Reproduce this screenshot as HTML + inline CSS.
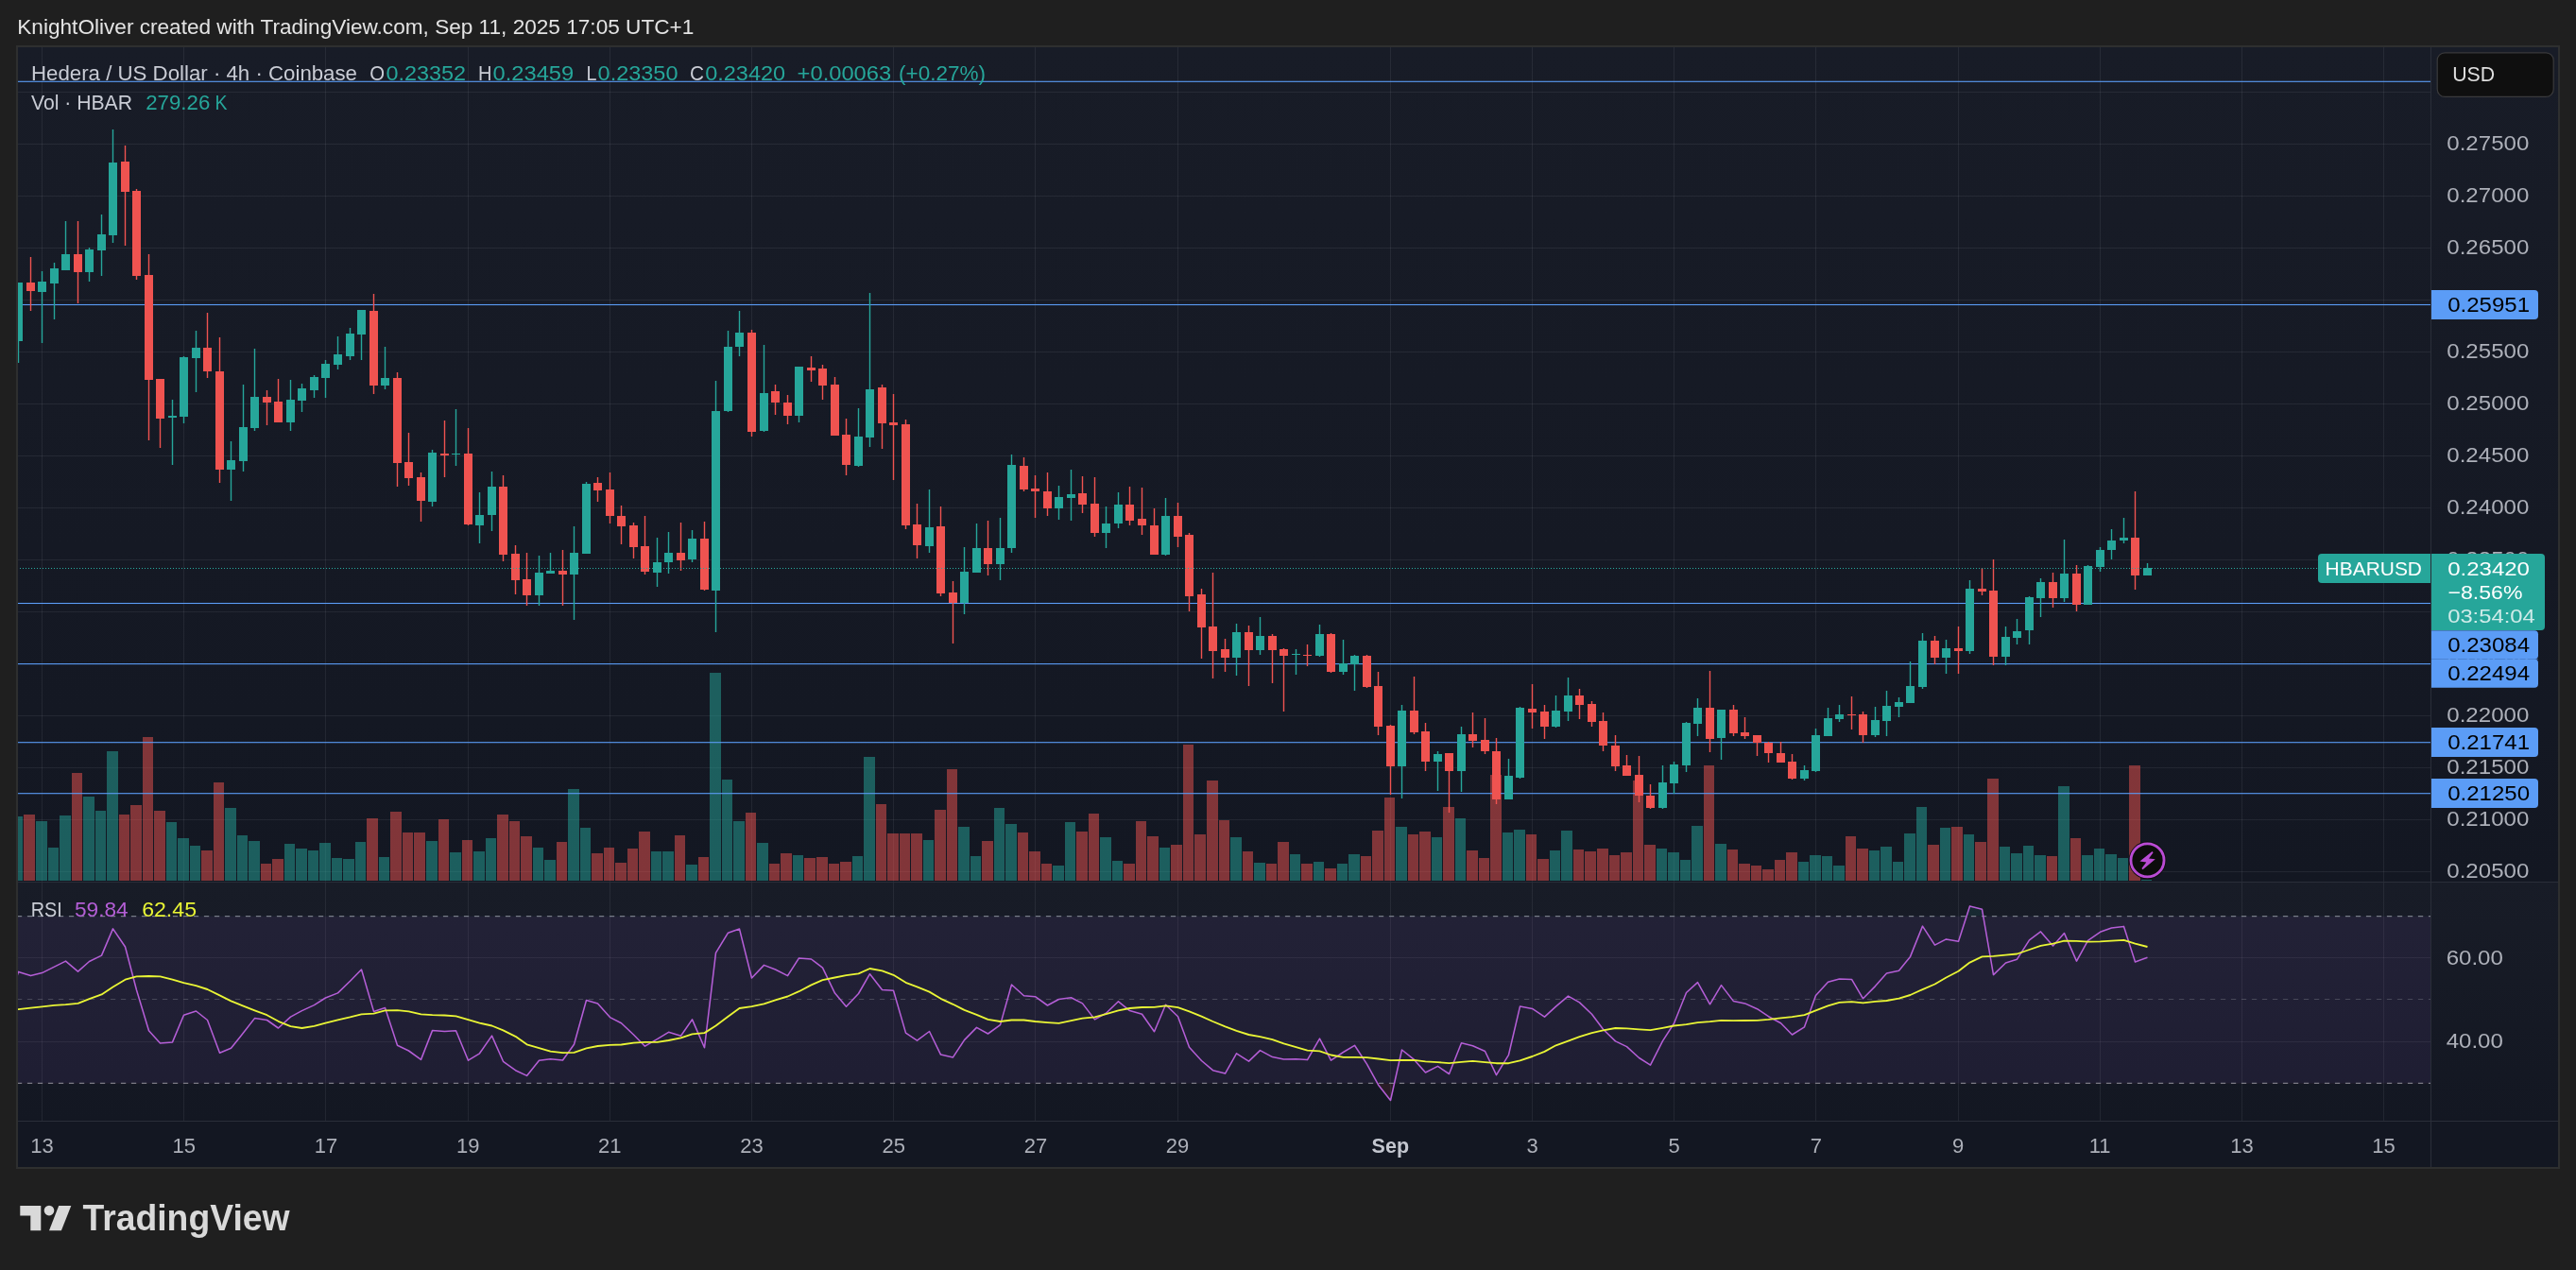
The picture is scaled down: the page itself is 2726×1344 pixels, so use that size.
<!DOCTYPE html>
<html lang="en"><head><meta charset="utf-8"><title>HBARUSD chart</title>
<style>html,body{margin:0;padding:0;background:#1f1f1f;}body{width:2726px;height:1344px;overflow:hidden;}svg{display:block;will-change:transform;}</style>
</head><body>
<svg width="2726" height="1344" viewBox="0 0 2726 1344" font-family='"Liberation Sans", Arial, sans-serif'>
<defs>
<linearGradient id="pg" x1="0" y1="0" x2="0" y2="1"><stop offset="0" stop-color="#181c27"/><stop offset="1" stop-color="#131722"/></linearGradient>
<clipPath id="cm"><rect x="19" y="50" width="2553" height="883"/></clipPath>
<clipPath id="cr"><rect x="19" y="934" width="2553" height="252"/></clipPath>
</defs>
<rect width="2726" height="1344" fill="#1f1f1f"/>
<text x="18.3" y="36.2" font-size="22.5" fill="#e4e4e4" textLength="716" lengthAdjust="spacingAndGlyphs">KnightOliver created with TradingView.com, Sep 11, 2025 17:05 UTC+1</text>
<rect x="17" y="48" width="2692" height="1189" fill="#2e2f2f"/>
<rect x="19" y="50" width="2688" height="883" fill="url(#pg)"/>
<rect x="19" y="933" width="2688" height="253" fill="url(#pg)"/>
<rect x="19" y="1186" width="2688" height="49" fill="#131722"/>
<g fill="#f0f3fa" fill-opacity="0.07">
<rect x="44" y="50" width="1" height="883"/>
<rect x="44" y="934" width="1" height="252"/>
<rect x="194" y="50" width="1" height="883"/>
<rect x="194" y="934" width="1" height="252"/>
<rect x="344" y="50" width="1" height="883"/>
<rect x="344" y="934" width="1" height="252"/>
<rect x="495" y="50" width="1" height="883"/>
<rect x="495" y="934" width="1" height="252"/>
<rect x="645" y="50" width="1" height="883"/>
<rect x="645" y="934" width="1" height="252"/>
<rect x="795" y="50" width="1" height="883"/>
<rect x="795" y="934" width="1" height="252"/>
<rect x="945" y="50" width="1" height="883"/>
<rect x="945" y="934" width="1" height="252"/>
<rect x="1095" y="50" width="1" height="883"/>
<rect x="1095" y="934" width="1" height="252"/>
<rect x="1246" y="50" width="1" height="883"/>
<rect x="1246" y="934" width="1" height="252"/>
<rect x="1471" y="50" width="1" height="883"/>
<rect x="1471" y="934" width="1" height="252"/>
<rect x="1621" y="50" width="1" height="883"/>
<rect x="1621" y="934" width="1" height="252"/>
<rect x="1771" y="50" width="1" height="883"/>
<rect x="1771" y="934" width="1" height="252"/>
<rect x="1921" y="50" width="1" height="883"/>
<rect x="1921" y="934" width="1" height="252"/>
<rect x="2072" y="50" width="1" height="883"/>
<rect x="2072" y="934" width="1" height="252"/>
<rect x="2222" y="50" width="1" height="883"/>
<rect x="2222" y="934" width="1" height="252"/>
<rect x="2372" y="50" width="1" height="883"/>
<rect x="2372" y="934" width="1" height="252"/>
<rect x="2522" y="50" width="1" height="883"/>
<rect x="2522" y="934" width="1" height="252"/>
<rect x="19" y="97" width="2553" height="1"/>
<rect x="19" y="152" width="2553" height="1"/>
<rect x="19" y="207" width="2553" height="1"/>
<rect x="19" y="262" width="2553" height="1"/>
<rect x="19" y="317" width="2553" height="1"/>
<rect x="19" y="372" width="2553" height="1"/>
<rect x="19" y="427" width="2553" height="1"/>
<rect x="19" y="482" width="2553" height="1"/>
<rect x="19" y="537" width="2553" height="1"/>
<rect x="19" y="592" width="2553" height="1"/>
<rect x="19" y="647" width="2553" height="1"/>
<rect x="19" y="702" width="2553" height="1"/>
<rect x="19" y="757" width="2553" height="1"/>
<rect x="19" y="812" width="2553" height="1"/>
<rect x="19" y="867" width="2553" height="1"/>
<rect x="19" y="922" width="2553" height="1"/>
<rect x="19" y="1013" width="2553" height="1"/>
<rect x="19" y="1102" width="2553" height="1"/>
</g>
<rect x="2572" y="50" width="1" height="1185" fill="#2a2e39"/>
<rect x="19" y="933" width="2688" height="1" fill="#2a2e39"/>
<rect x="19" y="1186" width="2688" height="1" fill="#2a2e39"/>
<g clip-path="url(#cm)">
<g fill-opacity="0.5">
<rect x="13" y="864" width="11" height="68" fill="#26a69a"/>
<rect x="25" y="862" width="12" height="70" fill="#ef5350"/>
<rect x="38" y="869" width="12" height="63" fill="#26a69a"/>
<rect x="51" y="897" width="11" height="35" fill="#26a69a"/>
<rect x="63" y="863" width="12" height="69" fill="#26a69a"/>
<rect x="76" y="818" width="11" height="114" fill="#ef5350"/>
<rect x="88" y="843" width="12" height="89" fill="#26a69a"/>
<rect x="101" y="858" width="11" height="74" fill="#26a69a"/>
<rect x="113" y="795" width="12" height="137" fill="#26a69a"/>
<rect x="126" y="862" width="11" height="70" fill="#ef5350"/>
<rect x="138" y="852" width="12" height="80" fill="#ef5350"/>
<rect x="151" y="780" width="11" height="152" fill="#ef5350"/>
<rect x="163" y="858" width="12" height="74" fill="#ef5350"/>
<rect x="176" y="870" width="11" height="62" fill="#26a69a"/>
<rect x="188" y="887" width="12" height="45" fill="#26a69a"/>
<rect x="201" y="895" width="11" height="37" fill="#26a69a"/>
<rect x="213" y="900" width="12" height="32" fill="#ef5350"/>
<rect x="226" y="828" width="11" height="104" fill="#ef5350"/>
<rect x="238" y="855" width="12" height="77" fill="#26a69a"/>
<rect x="251" y="884" width="11" height="48" fill="#26a69a"/>
<rect x="263" y="890" width="12" height="42" fill="#26a69a"/>
<rect x="276" y="914" width="11" height="18" fill="#ef5350"/>
<rect x="288" y="909" width="12" height="23" fill="#ef5350"/>
<rect x="301" y="893" width="11" height="39" fill="#26a69a"/>
<rect x="313" y="898" width="12" height="34" fill="#26a69a"/>
<rect x="326" y="900" width="11" height="32" fill="#26a69a"/>
<rect x="338" y="892" width="12" height="40" fill="#26a69a"/>
<rect x="351" y="908" width="11" height="24" fill="#26a69a"/>
<rect x="363" y="909" width="12" height="23" fill="#26a69a"/>
<rect x="376" y="891" width="11" height="41" fill="#26a69a"/>
<rect x="388" y="866" width="12" height="66" fill="#ef5350"/>
<rect x="401" y="907" width="11" height="25" fill="#26a69a"/>
<rect x="413" y="859" width="12" height="73" fill="#ef5350"/>
<rect x="426" y="881" width="11" height="51" fill="#ef5350"/>
<rect x="438" y="881" width="12" height="51" fill="#ef5350"/>
<rect x="451" y="890" width="12" height="42" fill="#26a69a"/>
<rect x="464" y="867" width="11" height="65" fill="#ef5350"/>
<rect x="476" y="902" width="12" height="30" fill="#26a69a"/>
<rect x="489" y="889" width="11" height="43" fill="#ef5350"/>
<rect x="501" y="901" width="12" height="31" fill="#26a69a"/>
<rect x="514" y="887" width="11" height="45" fill="#26a69a"/>
<rect x="526" y="862" width="12" height="70" fill="#ef5350"/>
<rect x="539" y="869" width="11" height="63" fill="#ef5350"/>
<rect x="551" y="885" width="12" height="47" fill="#ef5350"/>
<rect x="564" y="897" width="11" height="35" fill="#26a69a"/>
<rect x="576" y="910" width="12" height="22" fill="#26a69a"/>
<rect x="589" y="891" width="11" height="41" fill="#ef5350"/>
<rect x="601" y="835" width="12" height="97" fill="#26a69a"/>
<rect x="614" y="876" width="11" height="56" fill="#26a69a"/>
<rect x="626" y="903" width="12" height="29" fill="#ef5350"/>
<rect x="639" y="897" width="11" height="35" fill="#ef5350"/>
<rect x="651" y="913" width="12" height="19" fill="#ef5350"/>
<rect x="664" y="898" width="11" height="34" fill="#ef5350"/>
<rect x="676" y="880" width="12" height="52" fill="#ef5350"/>
<rect x="689" y="901" width="11" height="31" fill="#26a69a"/>
<rect x="701" y="901" width="12" height="31" fill="#26a69a"/>
<rect x="714" y="884" width="11" height="48" fill="#ef5350"/>
<rect x="726" y="915" width="12" height="17" fill="#26a69a"/>
<rect x="739" y="907" width="11" height="25" fill="#ef5350"/>
<rect x="751" y="712" width="12" height="220" fill="#26a69a"/>
<rect x="764" y="825" width="11" height="107" fill="#26a69a"/>
<rect x="776" y="869" width="12" height="63" fill="#26a69a"/>
<rect x="789" y="860" width="11" height="72" fill="#ef5350"/>
<rect x="801" y="892" width="12" height="40" fill="#26a69a"/>
<rect x="814" y="914" width="11" height="18" fill="#ef5350"/>
<rect x="826" y="903" width="12" height="29" fill="#ef5350"/>
<rect x="839" y="905" width="11" height="27" fill="#26a69a"/>
<rect x="851" y="908" width="12" height="24" fill="#ef5350"/>
<rect x="864" y="907" width="12" height="25" fill="#ef5350"/>
<rect x="877" y="914" width="11" height="18" fill="#ef5350"/>
<rect x="889" y="912" width="12" height="20" fill="#ef5350"/>
<rect x="902" y="906" width="11" height="26" fill="#26a69a"/>
<rect x="914" y="801" width="12" height="131" fill="#26a69a"/>
<rect x="927" y="851" width="11" height="81" fill="#ef5350"/>
<rect x="939" y="882" width="12" height="50" fill="#ef5350"/>
<rect x="952" y="882" width="11" height="50" fill="#ef5350"/>
<rect x="964" y="882" width="12" height="50" fill="#ef5350"/>
<rect x="977" y="889" width="11" height="43" fill="#26a69a"/>
<rect x="989" y="857" width="12" height="75" fill="#ef5350"/>
<rect x="1002" y="814" width="11" height="118" fill="#ef5350"/>
<rect x="1014" y="875" width="12" height="57" fill="#26a69a"/>
<rect x="1027" y="906" width="11" height="26" fill="#26a69a"/>
<rect x="1039" y="890" width="12" height="42" fill="#ef5350"/>
<rect x="1052" y="855" width="11" height="77" fill="#26a69a"/>
<rect x="1064" y="872" width="12" height="60" fill="#26a69a"/>
<rect x="1077" y="881" width="11" height="51" fill="#ef5350"/>
<rect x="1089" y="901" width="12" height="31" fill="#ef5350"/>
<rect x="1102" y="914" width="11" height="18" fill="#ef5350"/>
<rect x="1114" y="916" width="12" height="16" fill="#26a69a"/>
<rect x="1127" y="870" width="11" height="62" fill="#26a69a"/>
<rect x="1139" y="880" width="12" height="52" fill="#ef5350"/>
<rect x="1152" y="861" width="11" height="71" fill="#ef5350"/>
<rect x="1164" y="886" width="12" height="46" fill="#26a69a"/>
<rect x="1177" y="911" width="11" height="21" fill="#26a69a"/>
<rect x="1189" y="914" width="12" height="18" fill="#ef5350"/>
<rect x="1202" y="869" width="11" height="63" fill="#ef5350"/>
<rect x="1214" y="885" width="12" height="47" fill="#ef5350"/>
<rect x="1227" y="897" width="11" height="35" fill="#26a69a"/>
<rect x="1239" y="894" width="12" height="38" fill="#ef5350"/>
<rect x="1252" y="788" width="11" height="144" fill="#ef5350"/>
<rect x="1264" y="883" width="12" height="49" fill="#ef5350"/>
<rect x="1277" y="826" width="12" height="106" fill="#ef5350"/>
<rect x="1290" y="868" width="11" height="64" fill="#ef5350"/>
<rect x="1302" y="886" width="12" height="46" fill="#26a69a"/>
<rect x="1315" y="901" width="11" height="31" fill="#ef5350"/>
<rect x="1327" y="913" width="12" height="19" fill="#26a69a"/>
<rect x="1340" y="914" width="11" height="18" fill="#ef5350"/>
<rect x="1352" y="891" width="12" height="41" fill="#ef5350"/>
<rect x="1365" y="904" width="11" height="28" fill="#26a69a"/>
<rect x="1377" y="914" width="12" height="18" fill="#ef5350"/>
<rect x="1390" y="912" width="11" height="20" fill="#26a69a"/>
<rect x="1402" y="919" width="12" height="13" fill="#ef5350"/>
<rect x="1415" y="914" width="11" height="18" fill="#26a69a"/>
<rect x="1427" y="904" width="12" height="28" fill="#26a69a"/>
<rect x="1440" y="906" width="11" height="26" fill="#ef5350"/>
<rect x="1452" y="879" width="12" height="53" fill="#ef5350"/>
<rect x="1465" y="844" width="11" height="88" fill="#ef5350"/>
<rect x="1477" y="875" width="12" height="57" fill="#26a69a"/>
<rect x="1490" y="883" width="11" height="49" fill="#ef5350"/>
<rect x="1502" y="880" width="12" height="52" fill="#ef5350"/>
<rect x="1515" y="886" width="11" height="46" fill="#26a69a"/>
<rect x="1527" y="854" width="12" height="78" fill="#ef5350"/>
<rect x="1540" y="866" width="11" height="66" fill="#26a69a"/>
<rect x="1552" y="900" width="12" height="32" fill="#ef5350"/>
<rect x="1565" y="908" width="11" height="24" fill="#ef5350"/>
<rect x="1577" y="820" width="12" height="112" fill="#ef5350"/>
<rect x="1590" y="881" width="11" height="51" fill="#26a69a"/>
<rect x="1602" y="878" width="12" height="54" fill="#26a69a"/>
<rect x="1615" y="883" width="11" height="49" fill="#ef5350"/>
<rect x="1627" y="909" width="12" height="23" fill="#ef5350"/>
<rect x="1640" y="900" width="11" height="32" fill="#26a69a"/>
<rect x="1652" y="879" width="12" height="53" fill="#26a69a"/>
<rect x="1665" y="899" width="11" height="33" fill="#ef5350"/>
<rect x="1677" y="901" width="12" height="31" fill="#ef5350"/>
<rect x="1690" y="898" width="12" height="34" fill="#ef5350"/>
<rect x="1703" y="905" width="11" height="27" fill="#ef5350"/>
<rect x="1715" y="902" width="12" height="30" fill="#ef5350"/>
<rect x="1728" y="826" width="11" height="106" fill="#ef5350"/>
<rect x="1740" y="894" width="12" height="38" fill="#ef5350"/>
<rect x="1753" y="898" width="11" height="34" fill="#26a69a"/>
<rect x="1765" y="902" width="12" height="30" fill="#26a69a"/>
<rect x="1778" y="910" width="11" height="22" fill="#26a69a"/>
<rect x="1790" y="874" width="12" height="58" fill="#26a69a"/>
<rect x="1803" y="810" width="11" height="122" fill="#ef5350"/>
<rect x="1815" y="893" width="12" height="39" fill="#26a69a"/>
<rect x="1828" y="899" width="11" height="33" fill="#ef5350"/>
<rect x="1840" y="914" width="12" height="18" fill="#ef5350"/>
<rect x="1853" y="916" width="11" height="16" fill="#ef5350"/>
<rect x="1865" y="920" width="12" height="12" fill="#ef5350"/>
<rect x="1878" y="910" width="11" height="22" fill="#ef5350"/>
<rect x="1890" y="902" width="12" height="30" fill="#ef5350"/>
<rect x="1903" y="912" width="11" height="20" fill="#26a69a"/>
<rect x="1915" y="905" width="12" height="27" fill="#26a69a"/>
<rect x="1928" y="906" width="11" height="26" fill="#26a69a"/>
<rect x="1940" y="916" width="12" height="16" fill="#26a69a"/>
<rect x="1953" y="885" width="11" height="47" fill="#ef5350"/>
<rect x="1965" y="898" width="12" height="34" fill="#ef5350"/>
<rect x="1978" y="900" width="11" height="32" fill="#26a69a"/>
<rect x="1990" y="896" width="12" height="36" fill="#26a69a"/>
<rect x="2003" y="912" width="11" height="20" fill="#26a69a"/>
<rect x="2015" y="882" width="12" height="50" fill="#26a69a"/>
<rect x="2028" y="854" width="11" height="78" fill="#26a69a"/>
<rect x="2040" y="894" width="12" height="38" fill="#ef5350"/>
<rect x="2053" y="876" width="11" height="56" fill="#26a69a"/>
<rect x="2065" y="875" width="12" height="57" fill="#ef5350"/>
<rect x="2078" y="883" width="11" height="49" fill="#26a69a"/>
<rect x="2090" y="891" width="12" height="41" fill="#ef5350"/>
<rect x="2103" y="824" width="12" height="108" fill="#ef5350"/>
<rect x="2116" y="896" width="11" height="36" fill="#26a69a"/>
<rect x="2128" y="903" width="12" height="29" fill="#26a69a"/>
<rect x="2141" y="895" width="11" height="37" fill="#26a69a"/>
<rect x="2153" y="905" width="12" height="27" fill="#26a69a"/>
<rect x="2166" y="906" width="11" height="26" fill="#ef5350"/>
<rect x="2178" y="832" width="12" height="100" fill="#26a69a"/>
<rect x="2191" y="887" width="11" height="45" fill="#ef5350"/>
<rect x="2203" y="905" width="12" height="27" fill="#26a69a"/>
<rect x="2216" y="898" width="11" height="34" fill="#26a69a"/>
<rect x="2228" y="904" width="12" height="28" fill="#26a69a"/>
<rect x="2241" y="908" width="11" height="24" fill="#26a69a"/>
<rect x="2253" y="810" width="12" height="122" fill="#ef5350"/>
<rect x="2266" y="931" width="11" height="1" fill="#26a69a"/>
</g>
<rect x="19" y="85.75" width="2553" height="1.1" fill="#5b9cf6"/>
<rect x="19" y="321.95" width="2553" height="1.1" fill="#5b9cf6"/>
<rect x="19" y="637.95" width="2553" height="1.1" fill="#5b9cf6"/>
<rect x="19" y="702.05" width="2553" height="1.1" fill="#5b9cf6"/>
<rect x="19" y="785.15" width="2553" height="1.1" fill="#5b9cf6"/>
<rect x="19" y="839.15" width="2553" height="1.1" fill="#5b9cf6"/>
<rect x="18.8" y="299" width="1.4" height="85" fill="#26a69a"/>
<rect x="15" y="299" width="9" height="62" fill="#26a69a"/>
<rect x="31.8" y="272" width="1.4" height="57" fill="#ef5350"/>
<rect x="28" y="299" width="9" height="9" fill="#ef5350"/>
<rect x="43.8" y="287" width="1.4" height="76" fill="#26a69a"/>
<rect x="40" y="298" width="9" height="11" fill="#26a69a"/>
<rect x="56.8" y="278" width="1.4" height="60" fill="#26a69a"/>
<rect x="53" y="284" width="9" height="16" fill="#26a69a"/>
<rect x="68.8" y="234" width="1.4" height="52" fill="#26a69a"/>
<rect x="65" y="269" width="9" height="17" fill="#26a69a"/>
<rect x="81.8" y="234" width="1.4" height="87" fill="#ef5350"/>
<rect x="78" y="269" width="9" height="19" fill="#ef5350"/>
<rect x="93.8" y="262" width="1.4" height="36" fill="#26a69a"/>
<rect x="90" y="264" width="9" height="24" fill="#26a69a"/>
<rect x="106.8" y="227" width="1.4" height="65" fill="#26a69a"/>
<rect x="103" y="248" width="9" height="17" fill="#26a69a"/>
<rect x="118.8" y="137" width="1.4" height="120" fill="#26a69a"/>
<rect x="115" y="172" width="9" height="77" fill="#26a69a"/>
<rect x="131.8" y="154" width="1.4" height="106" fill="#ef5350"/>
<rect x="128" y="171" width="9" height="32" fill="#ef5350"/>
<rect x="143.8" y="200" width="1.4" height="96" fill="#ef5350"/>
<rect x="140" y="202" width="9" height="90" fill="#ef5350"/>
<rect x="156.8" y="269" width="1.4" height="197" fill="#ef5350"/>
<rect x="153" y="291" width="9" height="111" fill="#ef5350"/>
<rect x="168.8" y="401" width="1.4" height="73" fill="#ef5350"/>
<rect x="165" y="401" width="9" height="42" fill="#ef5350"/>
<rect x="181.8" y="423" width="1.4" height="69" fill="#26a69a"/>
<rect x="178" y="440" width="9" height="2" fill="#26a69a"/>
<rect x="193.8" y="377" width="1.4" height="71" fill="#26a69a"/>
<rect x="190" y="378" width="9" height="63" fill="#26a69a"/>
<rect x="206.8" y="350" width="1.4" height="65" fill="#26a69a"/>
<rect x="203" y="368" width="9" height="11" fill="#26a69a"/>
<rect x="218.8" y="331" width="1.4" height="69" fill="#ef5350"/>
<rect x="215" y="368" width="9" height="25" fill="#ef5350"/>
<rect x="231.8" y="357" width="1.4" height="154" fill="#ef5350"/>
<rect x="228" y="393" width="9" height="104" fill="#ef5350"/>
<rect x="243.8" y="467" width="1.4" height="63" fill="#26a69a"/>
<rect x="240" y="487" width="9" height="10" fill="#26a69a"/>
<rect x="256.8" y="407" width="1.4" height="92" fill="#26a69a"/>
<rect x="253" y="452" width="9" height="36" fill="#26a69a"/>
<rect x="268.8" y="369" width="1.4" height="87" fill="#26a69a"/>
<rect x="265" y="420" width="9" height="33" fill="#26a69a"/>
<rect x="281.8" y="413" width="1.4" height="37" fill="#ef5350"/>
<rect x="278" y="420" width="9" height="6" fill="#ef5350"/>
<rect x="293.8" y="401" width="1.4" height="46" fill="#ef5350"/>
<rect x="290" y="425" width="9" height="22" fill="#ef5350"/>
<rect x="306.8" y="402" width="1.4" height="54" fill="#26a69a"/>
<rect x="303" y="423" width="9" height="24" fill="#26a69a"/>
<rect x="318.8" y="406" width="1.4" height="30" fill="#26a69a"/>
<rect x="315" y="411" width="9" height="13" fill="#26a69a"/>
<rect x="331.8" y="397" width="1.4" height="24" fill="#26a69a"/>
<rect x="328" y="399" width="9" height="14" fill="#26a69a"/>
<rect x="343.8" y="381" width="1.4" height="40" fill="#26a69a"/>
<rect x="340" y="385" width="9" height="15" fill="#26a69a"/>
<rect x="356.8" y="356" width="1.4" height="35" fill="#26a69a"/>
<rect x="353" y="375" width="9" height="11" fill="#26a69a"/>
<rect x="369.8" y="347" width="1.4" height="34" fill="#26a69a"/>
<rect x="366" y="353" width="9" height="24" fill="#26a69a"/>
<rect x="381.8" y="328" width="1.4" height="53" fill="#26a69a"/>
<rect x="378" y="328" width="9" height="26" fill="#26a69a"/>
<rect x="394.8" y="311" width="1.4" height="106" fill="#ef5350"/>
<rect x="391" y="329" width="9" height="79" fill="#ef5350"/>
<rect x="406.8" y="367" width="1.4" height="45" fill="#26a69a"/>
<rect x="403" y="400" width="9" height="8" fill="#26a69a"/>
<rect x="419.8" y="394" width="1.4" height="121" fill="#ef5350"/>
<rect x="416" y="400" width="9" height="90" fill="#ef5350"/>
<rect x="431.8" y="458" width="1.4" height="56" fill="#ef5350"/>
<rect x="428" y="489" width="9" height="17" fill="#ef5350"/>
<rect x="444.8" y="500" width="1.4" height="52" fill="#ef5350"/>
<rect x="441" y="505" width="9" height="25" fill="#ef5350"/>
<rect x="456.8" y="476" width="1.4" height="60" fill="#26a69a"/>
<rect x="453" y="479" width="9" height="52" fill="#26a69a"/>
<rect x="469.8" y="445" width="1.4" height="60" fill="#ef5350"/>
<rect x="466" y="480" width="9" height="2" fill="#ef5350"/>
<rect x="481.8" y="433" width="1.4" height="60" fill="#26a69a"/>
<rect x="478" y="480" width="9" height="1" fill="#26a69a"/>
<rect x="494.8" y="453" width="1.4" height="103" fill="#ef5350"/>
<rect x="491" y="480" width="9" height="75" fill="#ef5350"/>
<rect x="506.8" y="521" width="1.4" height="54" fill="#26a69a"/>
<rect x="503" y="545" width="9" height="11" fill="#26a69a"/>
<rect x="519.8" y="499" width="1.4" height="63" fill="#26a69a"/>
<rect x="516" y="515" width="9" height="30" fill="#26a69a"/>
<rect x="531.8" y="503" width="1.4" height="91" fill="#ef5350"/>
<rect x="528" y="515" width="9" height="72" fill="#ef5350"/>
<rect x="544.8" y="577" width="1.4" height="52" fill="#ef5350"/>
<rect x="541" y="586" width="9" height="28" fill="#ef5350"/>
<rect x="556.8" y="585" width="1.4" height="56" fill="#ef5350"/>
<rect x="553" y="613" width="9" height="17" fill="#ef5350"/>
<rect x="569.8" y="588" width="1.4" height="53" fill="#26a69a"/>
<rect x="566" y="606" width="9" height="24" fill="#26a69a"/>
<rect x="581.8" y="585" width="1.4" height="22" fill="#26a69a"/>
<rect x="578" y="604" width="9" height="3" fill="#26a69a"/>
<rect x="594.8" y="582" width="1.4" height="59" fill="#ef5350"/>
<rect x="591" y="604" width="9" height="4" fill="#ef5350"/>
<rect x="606.8" y="557" width="1.4" height="99" fill="#26a69a"/>
<rect x="603" y="585" width="9" height="23" fill="#26a69a"/>
<rect x="619.8" y="510" width="1.4" height="76" fill="#26a69a"/>
<rect x="616" y="512" width="9" height="74" fill="#26a69a"/>
<rect x="631.8" y="505" width="1.4" height="26" fill="#ef5350"/>
<rect x="628" y="511" width="9" height="8" fill="#ef5350"/>
<rect x="644.8" y="500" width="1.4" height="54" fill="#ef5350"/>
<rect x="641" y="518" width="9" height="28" fill="#ef5350"/>
<rect x="656.8" y="535" width="1.4" height="41" fill="#ef5350"/>
<rect x="653" y="546" width="9" height="11" fill="#ef5350"/>
<rect x="669.8" y="553" width="1.4" height="38" fill="#ef5350"/>
<rect x="666" y="556" width="9" height="23" fill="#ef5350"/>
<rect x="681.8" y="546" width="1.4" height="62" fill="#ef5350"/>
<rect x="678" y="578" width="9" height="27" fill="#ef5350"/>
<rect x="694.8" y="569" width="1.4" height="52" fill="#26a69a"/>
<rect x="691" y="595" width="9" height="11" fill="#26a69a"/>
<rect x="706.8" y="563" width="1.4" height="44" fill="#26a69a"/>
<rect x="703" y="585" width="9" height="10" fill="#26a69a"/>
<rect x="719.8" y="553" width="1.4" height="51" fill="#ef5350"/>
<rect x="716" y="585" width="9" height="8" fill="#ef5350"/>
<rect x="731.8" y="561" width="1.4" height="34" fill="#26a69a"/>
<rect x="728" y="570" width="9" height="22" fill="#26a69a"/>
<rect x="744.8" y="552" width="1.4" height="73" fill="#ef5350"/>
<rect x="741" y="570" width="9" height="54" fill="#ef5350"/>
<rect x="756.8" y="403" width="1.4" height="266" fill="#26a69a"/>
<rect x="753" y="435" width="9" height="190" fill="#26a69a"/>
<rect x="769.8" y="350" width="1.4" height="86" fill="#26a69a"/>
<rect x="766" y="367" width="9" height="68" fill="#26a69a"/>
<rect x="781.8" y="329" width="1.4" height="48" fill="#26a69a"/>
<rect x="778" y="352" width="9" height="15" fill="#26a69a"/>
<rect x="794.8" y="349" width="1.4" height="113" fill="#ef5350"/>
<rect x="791" y="352" width="9" height="105" fill="#ef5350"/>
<rect x="807.8" y="365" width="1.4" height="92" fill="#26a69a"/>
<rect x="804" y="416" width="9" height="40" fill="#26a69a"/>
<rect x="819.8" y="407" width="1.4" height="32" fill="#ef5350"/>
<rect x="816" y="414" width="9" height="12" fill="#ef5350"/>
<rect x="832.8" y="418" width="1.4" height="31" fill="#ef5350"/>
<rect x="829" y="426" width="9" height="14" fill="#ef5350"/>
<rect x="844.8" y="388" width="1.4" height="59" fill="#26a69a"/>
<rect x="841" y="388" width="9" height="52" fill="#26a69a"/>
<rect x="857.8" y="377" width="1.4" height="27" fill="#ef5350"/>
<rect x="854" y="389" width="9" height="3" fill="#ef5350"/>
<rect x="869.8" y="386" width="1.4" height="37" fill="#ef5350"/>
<rect x="866" y="390" width="9" height="18" fill="#ef5350"/>
<rect x="882.8" y="399" width="1.4" height="62" fill="#ef5350"/>
<rect x="879" y="407" width="9" height="54" fill="#ef5350"/>
<rect x="894.8" y="443" width="1.4" height="60" fill="#ef5350"/>
<rect x="891" y="460" width="9" height="32" fill="#ef5350"/>
<rect x="907.8" y="432" width="1.4" height="62" fill="#26a69a"/>
<rect x="904" y="462" width="9" height="31" fill="#26a69a"/>
<rect x="919.8" y="310" width="1.4" height="163" fill="#26a69a"/>
<rect x="916" y="412" width="9" height="51" fill="#26a69a"/>
<rect x="932.8" y="407" width="1.4" height="68" fill="#ef5350"/>
<rect x="929" y="410" width="9" height="38" fill="#ef5350"/>
<rect x="944.8" y="417" width="1.4" height="91" fill="#ef5350"/>
<rect x="941" y="447" width="9" height="3" fill="#ef5350"/>
<rect x="957.8" y="444" width="1.4" height="116" fill="#ef5350"/>
<rect x="954" y="449" width="9" height="107" fill="#ef5350"/>
<rect x="969.8" y="533" width="1.4" height="58" fill="#ef5350"/>
<rect x="966" y="555" width="9" height="22" fill="#ef5350"/>
<rect x="982.8" y="518" width="1.4" height="67" fill="#26a69a"/>
<rect x="979" y="558" width="9" height="20" fill="#26a69a"/>
<rect x="994.8" y="536" width="1.4" height="95" fill="#ef5350"/>
<rect x="991" y="557" width="9" height="71" fill="#ef5350"/>
<rect x="1007.8" y="615" width="1.4" height="66" fill="#ef5350"/>
<rect x="1004" y="627" width="9" height="11" fill="#ef5350"/>
<rect x="1019.8" y="579" width="1.4" height="71" fill="#26a69a"/>
<rect x="1016" y="605" width="9" height="33" fill="#26a69a"/>
<rect x="1032.8" y="554" width="1.4" height="52" fill="#26a69a"/>
<rect x="1029" y="580" width="9" height="26" fill="#26a69a"/>
<rect x="1044.8" y="551" width="1.4" height="58" fill="#ef5350"/>
<rect x="1041" y="580" width="9" height="17" fill="#ef5350"/>
<rect x="1057.8" y="548" width="1.4" height="66" fill="#26a69a"/>
<rect x="1054" y="580" width="9" height="17" fill="#26a69a"/>
<rect x="1069.8" y="481" width="1.4" height="104" fill="#26a69a"/>
<rect x="1066" y="492" width="9" height="88" fill="#26a69a"/>
<rect x="1082.8" y="484" width="1.4" height="36" fill="#ef5350"/>
<rect x="1079" y="493" width="9" height="25" fill="#ef5350"/>
<rect x="1094.8" y="503" width="1.4" height="45" fill="#ef5350"/>
<rect x="1091" y="517" width="9" height="3" fill="#ef5350"/>
<rect x="1107.8" y="500" width="1.4" height="46" fill="#ef5350"/>
<rect x="1104" y="520" width="9" height="18" fill="#ef5350"/>
<rect x="1119.8" y="514" width="1.4" height="36" fill="#26a69a"/>
<rect x="1116" y="526" width="9" height="12" fill="#26a69a"/>
<rect x="1132.8" y="497" width="1.4" height="54" fill="#26a69a"/>
<rect x="1129" y="523" width="9" height="4" fill="#26a69a"/>
<rect x="1144.8" y="504" width="1.4" height="39" fill="#ef5350"/>
<rect x="1141" y="522" width="9" height="12" fill="#ef5350"/>
<rect x="1157.8" y="505" width="1.4" height="63" fill="#ef5350"/>
<rect x="1154" y="533" width="9" height="31" fill="#ef5350"/>
<rect x="1169.8" y="536" width="1.4" height="44" fill="#26a69a"/>
<rect x="1166" y="554" width="9" height="10" fill="#26a69a"/>
<rect x="1182.8" y="521" width="1.4" height="38" fill="#26a69a"/>
<rect x="1179" y="534" width="9" height="20" fill="#26a69a"/>
<rect x="1194.8" y="515" width="1.4" height="41" fill="#ef5350"/>
<rect x="1191" y="534" width="9" height="17" fill="#ef5350"/>
<rect x="1207.8" y="516" width="1.4" height="50" fill="#ef5350"/>
<rect x="1204" y="549" width="9" height="7" fill="#ef5350"/>
<rect x="1220.8" y="538" width="1.4" height="49" fill="#ef5350"/>
<rect x="1217" y="556" width="9" height="31" fill="#ef5350"/>
<rect x="1232.8" y="527" width="1.4" height="61" fill="#26a69a"/>
<rect x="1229" y="546" width="9" height="41" fill="#26a69a"/>
<rect x="1245.8" y="532" width="1.4" height="47" fill="#ef5350"/>
<rect x="1242" y="546" width="9" height="22" fill="#ef5350"/>
<rect x="1257.8" y="564" width="1.4" height="83" fill="#ef5350"/>
<rect x="1254" y="566" width="9" height="65" fill="#ef5350"/>
<rect x="1270.8" y="623" width="1.4" height="74" fill="#ef5350"/>
<rect x="1267" y="629" width="9" height="35" fill="#ef5350"/>
<rect x="1282.8" y="606" width="1.4" height="112" fill="#ef5350"/>
<rect x="1279" y="663" width="9" height="26" fill="#ef5350"/>
<rect x="1295.8" y="676" width="1.4" height="35" fill="#ef5350"/>
<rect x="1292" y="687" width="9" height="9" fill="#ef5350"/>
<rect x="1307.8" y="660" width="1.4" height="55" fill="#26a69a"/>
<rect x="1304" y="669" width="9" height="27" fill="#26a69a"/>
<rect x="1320.8" y="662" width="1.4" height="64" fill="#ef5350"/>
<rect x="1317" y="669" width="9" height="19" fill="#ef5350"/>
<rect x="1332.8" y="653" width="1.4" height="40" fill="#26a69a"/>
<rect x="1329" y="673" width="9" height="15" fill="#26a69a"/>
<rect x="1345.8" y="671" width="1.4" height="52" fill="#ef5350"/>
<rect x="1342" y="673" width="9" height="15" fill="#ef5350"/>
<rect x="1357.8" y="686" width="1.4" height="67" fill="#ef5350"/>
<rect x="1354" y="687" width="9" height="7" fill="#ef5350"/>
<rect x="1370.8" y="687" width="1.4" height="27" fill="#26a69a"/>
<rect x="1367" y="692" width="9" height="1" fill="#26a69a"/>
<rect x="1382.8" y="682" width="1.4" height="23" fill="#ef5350"/>
<rect x="1379" y="693" width="9" height="1" fill="#ef5350"/>
<rect x="1395.8" y="661" width="1.4" height="34" fill="#26a69a"/>
<rect x="1392" y="671" width="9" height="23" fill="#26a69a"/>
<rect x="1407.8" y="670" width="1.4" height="42" fill="#ef5350"/>
<rect x="1404" y="671" width="9" height="40" fill="#ef5350"/>
<rect x="1420.8" y="677" width="1.4" height="37" fill="#26a69a"/>
<rect x="1417" y="702" width="9" height="9" fill="#26a69a"/>
<rect x="1432.8" y="693" width="1.4" height="38" fill="#26a69a"/>
<rect x="1429" y="694" width="9" height="9" fill="#26a69a"/>
<rect x="1445.8" y="693" width="1.4" height="35" fill="#ef5350"/>
<rect x="1442" y="694" width="9" height="33" fill="#ef5350"/>
<rect x="1457.8" y="711" width="1.4" height="67" fill="#ef5350"/>
<rect x="1454" y="726" width="9" height="43" fill="#ef5350"/>
<rect x="1470.8" y="767" width="1.4" height="74" fill="#ef5350"/>
<rect x="1467" y="768" width="9" height="43" fill="#ef5350"/>
<rect x="1482.8" y="746" width="1.4" height="99" fill="#26a69a"/>
<rect x="1479" y="752" width="9" height="59" fill="#26a69a"/>
<rect x="1495.8" y="716" width="1.4" height="61" fill="#ef5350"/>
<rect x="1492" y="752" width="9" height="23" fill="#ef5350"/>
<rect x="1507.8" y="765" width="1.4" height="51" fill="#ef5350"/>
<rect x="1504" y="774" width="9" height="32" fill="#ef5350"/>
<rect x="1520.8" y="795" width="1.4" height="42" fill="#26a69a"/>
<rect x="1517" y="798" width="9" height="8" fill="#26a69a"/>
<rect x="1532.8" y="797" width="1.4" height="63" fill="#ef5350"/>
<rect x="1529" y="797" width="9" height="19" fill="#ef5350"/>
<rect x="1545.8" y="769" width="1.4" height="69" fill="#26a69a"/>
<rect x="1542" y="777" width="9" height="39" fill="#26a69a"/>
<rect x="1557.8" y="754" width="1.4" height="37" fill="#ef5350"/>
<rect x="1554" y="777" width="9" height="7" fill="#ef5350"/>
<rect x="1570.8" y="760" width="1.4" height="38" fill="#ef5350"/>
<rect x="1567" y="783" width="9" height="12" fill="#ef5350"/>
<rect x="1582.8" y="781" width="1.4" height="70" fill="#ef5350"/>
<rect x="1579" y="795" width="9" height="51" fill="#ef5350"/>
<rect x="1595.8" y="803" width="1.4" height="43" fill="#26a69a"/>
<rect x="1592" y="821" width="9" height="25" fill="#26a69a"/>
<rect x="1607.8" y="748" width="1.4" height="76" fill="#26a69a"/>
<rect x="1604" y="749" width="9" height="74" fill="#26a69a"/>
<rect x="1620.8" y="724" width="1.4" height="47" fill="#ef5350"/>
<rect x="1617" y="750" width="9" height="4" fill="#ef5350"/>
<rect x="1633.8" y="746" width="1.4" height="36" fill="#ef5350"/>
<rect x="1630" y="753" width="9" height="16" fill="#ef5350"/>
<rect x="1645.8" y="736" width="1.4" height="34" fill="#26a69a"/>
<rect x="1642" y="752" width="9" height="17" fill="#26a69a"/>
<rect x="1658.8" y="717" width="1.4" height="46" fill="#26a69a"/>
<rect x="1655" y="736" width="9" height="17" fill="#26a69a"/>
<rect x="1670.8" y="729" width="1.4" height="32" fill="#ef5350"/>
<rect x="1667" y="736" width="9" height="10" fill="#ef5350"/>
<rect x="1683.8" y="742" width="1.4" height="27" fill="#ef5350"/>
<rect x="1680" y="745" width="9" height="19" fill="#ef5350"/>
<rect x="1695.8" y="754" width="1.4" height="41" fill="#ef5350"/>
<rect x="1692" y="763" width="9" height="26" fill="#ef5350"/>
<rect x="1708.8" y="778" width="1.4" height="38" fill="#ef5350"/>
<rect x="1705" y="789" width="9" height="22" fill="#ef5350"/>
<rect x="1720.8" y="799" width="1.4" height="22" fill="#ef5350"/>
<rect x="1717" y="810" width="9" height="11" fill="#ef5350"/>
<rect x="1733.8" y="800" width="1.4" height="49" fill="#ef5350"/>
<rect x="1730" y="820" width="9" height="22" fill="#ef5350"/>
<rect x="1745.8" y="830" width="1.4" height="26" fill="#ef5350"/>
<rect x="1742" y="842" width="9" height="13" fill="#ef5350"/>
<rect x="1758.8" y="810" width="1.4" height="46" fill="#26a69a"/>
<rect x="1755" y="828" width="9" height="27" fill="#26a69a"/>
<rect x="1770.8" y="806" width="1.4" height="34" fill="#26a69a"/>
<rect x="1767" y="809" width="9" height="20" fill="#26a69a"/>
<rect x="1783.8" y="764" width="1.4" height="53" fill="#26a69a"/>
<rect x="1780" y="765" width="9" height="45" fill="#26a69a"/>
<rect x="1795.8" y="739" width="1.4" height="40" fill="#26a69a"/>
<rect x="1792" y="749" width="9" height="17" fill="#26a69a"/>
<rect x="1808.8" y="710" width="1.4" height="86" fill="#ef5350"/>
<rect x="1805" y="749" width="9" height="33" fill="#ef5350"/>
<rect x="1820.8" y="751" width="1.4" height="53" fill="#26a69a"/>
<rect x="1817" y="751" width="9" height="30" fill="#26a69a"/>
<rect x="1833.8" y="746" width="1.4" height="33" fill="#ef5350"/>
<rect x="1830" y="751" width="9" height="25" fill="#ef5350"/>
<rect x="1845.8" y="759" width="1.4" height="23" fill="#ef5350"/>
<rect x="1842" y="775" width="9" height="4" fill="#ef5350"/>
<rect x="1858.8" y="778" width="1.4" height="22" fill="#ef5350"/>
<rect x="1855" y="778" width="9" height="8" fill="#ef5350"/>
<rect x="1870.8" y="785" width="1.4" height="22" fill="#ef5350"/>
<rect x="1867" y="786" width="9" height="11" fill="#ef5350"/>
<rect x="1883.8" y="785" width="1.4" height="22" fill="#ef5350"/>
<rect x="1880" y="797" width="9" height="10" fill="#ef5350"/>
<rect x="1895.8" y="798" width="1.4" height="27" fill="#ef5350"/>
<rect x="1892" y="806" width="9" height="18" fill="#ef5350"/>
<rect x="1908.8" y="810" width="1.4" height="16" fill="#26a69a"/>
<rect x="1905" y="815" width="9" height="9" fill="#26a69a"/>
<rect x="1920.8" y="771" width="1.4" height="46" fill="#26a69a"/>
<rect x="1917" y="778" width="9" height="38" fill="#26a69a"/>
<rect x="1933.8" y="749" width="1.4" height="30" fill="#26a69a"/>
<rect x="1930" y="760" width="9" height="19" fill="#26a69a"/>
<rect x="1945.8" y="746" width="1.4" height="18" fill="#26a69a"/>
<rect x="1942" y="756" width="9" height="5" fill="#26a69a"/>
<rect x="1958.8" y="737" width="1.4" height="35" fill="#ef5350"/>
<rect x="1955" y="756" width="9" height="1" fill="#ef5350"/>
<rect x="1970.8" y="753" width="1.4" height="33" fill="#ef5350"/>
<rect x="1967" y="756" width="9" height="22" fill="#ef5350"/>
<rect x="1983.8" y="748" width="1.4" height="32" fill="#26a69a"/>
<rect x="1980" y="762" width="9" height="16" fill="#26a69a"/>
<rect x="1995.8" y="731" width="1.4" height="48" fill="#26a69a"/>
<rect x="1992" y="747" width="9" height="16" fill="#26a69a"/>
<rect x="2008.8" y="738" width="1.4" height="21" fill="#26a69a"/>
<rect x="2005" y="743" width="9" height="5" fill="#26a69a"/>
<rect x="2020.8" y="700" width="1.4" height="44" fill="#26a69a"/>
<rect x="2017" y="726" width="9" height="18" fill="#26a69a"/>
<rect x="2033.8" y="670" width="1.4" height="59" fill="#26a69a"/>
<rect x="2030" y="678" width="9" height="49" fill="#26a69a"/>
<rect x="2046.8" y="673" width="1.4" height="30" fill="#ef5350"/>
<rect x="2043" y="678" width="9" height="18" fill="#ef5350"/>
<rect x="2058.8" y="677" width="1.4" height="36" fill="#26a69a"/>
<rect x="2055" y="686" width="9" height="10" fill="#26a69a"/>
<rect x="2071.8" y="663" width="1.4" height="50" fill="#ef5350"/>
<rect x="2068" y="686" width="9" height="3" fill="#ef5350"/>
<rect x="2083.8" y="614" width="1.4" height="78" fill="#26a69a"/>
<rect x="2080" y="623" width="9" height="66" fill="#26a69a"/>
<rect x="2096.8" y="601" width="1.4" height="29" fill="#ef5350"/>
<rect x="2093" y="623" width="9" height="3" fill="#ef5350"/>
<rect x="2108.8" y="592" width="1.4" height="112" fill="#ef5350"/>
<rect x="2105" y="625" width="9" height="70" fill="#ef5350"/>
<rect x="2121.8" y="663" width="1.4" height="41" fill="#26a69a"/>
<rect x="2118" y="674" width="9" height="21" fill="#26a69a"/>
<rect x="2133.8" y="655" width="1.4" height="27" fill="#26a69a"/>
<rect x="2130" y="668" width="9" height="7" fill="#26a69a"/>
<rect x="2146.8" y="631" width="1.4" height="51" fill="#26a69a"/>
<rect x="2143" y="632" width="9" height="35" fill="#26a69a"/>
<rect x="2158.8" y="612" width="1.4" height="41" fill="#26a69a"/>
<rect x="2155" y="616" width="9" height="17" fill="#26a69a"/>
<rect x="2171.8" y="606" width="1.4" height="37" fill="#ef5350"/>
<rect x="2168" y="616" width="9" height="17" fill="#ef5350"/>
<rect x="2183.8" y="571" width="1.4" height="66" fill="#26a69a"/>
<rect x="2180" y="607" width="9" height="26" fill="#26a69a"/>
<rect x="2196.8" y="598" width="1.4" height="49" fill="#ef5350"/>
<rect x="2193" y="607" width="9" height="33" fill="#ef5350"/>
<rect x="2208.8" y="598" width="1.4" height="42" fill="#26a69a"/>
<rect x="2205" y="599" width="9" height="41" fill="#26a69a"/>
<rect x="2221.8" y="579" width="1.4" height="26" fill="#26a69a"/>
<rect x="2218" y="582" width="9" height="18" fill="#26a69a"/>
<rect x="2233.8" y="560" width="1.4" height="32" fill="#26a69a"/>
<rect x="2230" y="572" width="9" height="10" fill="#26a69a"/>
<rect x="2246.8" y="548" width="1.4" height="27" fill="#26a69a"/>
<rect x="2243" y="569" width="9" height="3" fill="#26a69a"/>
<rect x="2258.8" y="520" width="1.4" height="104" fill="#ef5350"/>
<rect x="2255" y="569" width="9" height="40" fill="#ef5350"/>
<rect x="2271.8" y="596" width="1.4" height="13" fill="#26a69a"/>
<rect x="2268" y="601" width="9" height="8" fill="#26a69a"/>
<line x1="21" y1="601.5" x2="2453" y2="601.5" stroke="#28ab9e" stroke-width="1.15" stroke-dasharray="1.05 1.95"/>
</g>
<g clip-path="url(#cr)">
<rect x="19" y="969.7" width="2553" height="176.7" fill="#8a5ac6" fill-opacity="0.10"/>
<line x1="17.9" y1="969.6" x2="2572" y2="969.6" stroke="#787b86" stroke-opacity="1" stroke-width="1.15" stroke-dasharray="5.3 5.7"/>
<line x1="17.9" y1="1057.5" x2="2572" y2="1057.5" stroke="#787b86" stroke-opacity="0.45" stroke-width="1.15" stroke-dasharray="5.3 5.7"/>
<line x1="17.9" y1="1146.4" x2="2572" y2="1146.4" stroke="#787b86" stroke-opacity="1" stroke-width="1.15" stroke-dasharray="5.3 5.7"/>
<clipPath id="c30"><rect x="19" y="1146.4" width="2553" height="40"/></clipPath>
<clipPath id="c70"><rect x="19" y="934" width="2553" height="35.6"/></clipPath>
<polygon points="19,1146.4 7.5,1066.2 19.5,1028.4 32.5,1032.6 44.5,1029.6 57.5,1023.1 69.5,1017.1 82.5,1028.1 94.5,1017.5 107.5,1011.1 119.5,982.9 132.5,1002.0 144.5,1047.7 157.5,1090.8 169.5,1104.0 182.5,1102.9 194.5,1074.2 207.5,1070.0 219.5,1079.5 232.5,1114.2 244.5,1109.3 257.5,1093.1 269.5,1077.6 282.5,1079.5 294.5,1088.0 307.5,1076.1 319.5,1069.6 332.5,1063.6 344.5,1056.0 357.5,1050.9 370.5,1038.3 382.5,1026.0 395.5,1070.4 407.5,1066.6 420.5,1106.3 432.5,1112.0 445.5,1121.4 457.5,1090.6 470.5,1091.5 482.5,1090.8 495.5,1122.2 507.5,1114.8 520.5,1096.1 532.5,1123.3 545.5,1132.7 557.5,1138.4 570.5,1122.2 582.5,1120.8 595.5,1122.0 607.5,1105.3 620.5,1058.5 632.5,1062.1 645.5,1076.6 657.5,1082.7 670.5,1095.0 682.5,1107.2 695.5,1099.7 707.5,1092.3 720.5,1096.3 732.5,1078.9 745.5,1108.7 757.5,1008.4 770.5,987.2 782.5,983.1 795.5,1035.0 808.5,1021.4 820.5,1026.0 833.5,1032.6 845.5,1013.9 858.5,1015.0 870.5,1024.1 883.5,1051.1 895.5,1065.3 908.5,1051.5 920.5,1030.7 933.5,1047.5 945.5,1048.3 958.5,1093.1 970.5,1101.2 983.5,1091.5 995.5,1116.1 1008.5,1118.9 1020.5,1100.6 1033.5,1087.4 1045.5,1094.0 1058.5,1084.6 1070.5,1042.0 1083.5,1053.8 1095.5,1054.7 1108.5,1064.0 1120.5,1057.5 1133.5,1055.8 1145.5,1061.9 1158.5,1078.9 1170.5,1072.3 1183.5,1059.8 1195.5,1069.6 1208.5,1073.2 1221.5,1091.7 1233.5,1063.2 1246.5,1075.7 1258.5,1108.2 1271.5,1122.5 1283.5,1132.7 1296.5,1136.1 1308.5,1114.8 1321.5,1123.1 1333.5,1111.6 1346.5,1118.6 1358.5,1121.0 1371.5,1120.8 1383.5,1121.6 1396.5,1099.1 1408.5,1122.2 1421.5,1113.5 1433.5,1106.3 1446.5,1126.1 1458.5,1147.9 1471.5,1164.5 1483.5,1111.0 1496.5,1121.4 1508.5,1135.0 1521.5,1128.4 1533.5,1136.5 1546.5,1103.8 1558.5,1106.7 1571.5,1112.5 1583.5,1137.7 1596.5,1116.3 1608.5,1065.1 1621.5,1067.4 1634.5,1076.1 1646.5,1065.1 1659.5,1054.1 1671.5,1060.9 1684.5,1073.2 1696.5,1089.3 1709.5,1101.9 1721.5,1107.6 1734.5,1119.5 1746.5,1127.1 1759.5,1101.6 1771.5,1083.0 1784.5,1050.5 1796.5,1039.6 1809.5,1062.8 1821.5,1042.6 1834.5,1059.6 1846.5,1061.9 1859.5,1067.7 1871.5,1075.7 1884.5,1082.7 1896.5,1095.0 1909.5,1086.8 1921.5,1053.4 1934.5,1039.2 1946.5,1036.0 1959.5,1036.4 1971.5,1056.8 1984.5,1043.6 1996.5,1030.1 2009.5,1027.3 2021.5,1012.4 2034.5,980.1 2047.5,1000.1 2059.5,993.9 2072.5,996.3 2084.5,958.9 2097.5,962.3 2109.5,1031.6 2122.5,1019.0 2134.5,1015.2 2147.5,994.8 2159.5,985.9 2172.5,1001.0 2184.5,987.6 2197.5,1017.1 2209.5,995.4 2222.5,986.3 2234.5,982.0 2247.5,980.4 2259.5,1017.9 2272.5,1013.3 2572,1146.4" fill="#ef5350" fill-opacity="0.1" clip-path="url(#c30)"/>
<polygon points="19,969.6 7.5,1066.2 19.5,1028.4 32.5,1032.6 44.5,1029.6 57.5,1023.1 69.5,1017.1 82.5,1028.1 94.5,1017.5 107.5,1011.1 119.5,982.9 132.5,1002.0 144.5,1047.7 157.5,1090.8 169.5,1104.0 182.5,1102.9 194.5,1074.2 207.5,1070.0 219.5,1079.5 232.5,1114.2 244.5,1109.3 257.5,1093.1 269.5,1077.6 282.5,1079.5 294.5,1088.0 307.5,1076.1 319.5,1069.6 332.5,1063.6 344.5,1056.0 357.5,1050.9 370.5,1038.3 382.5,1026.0 395.5,1070.4 407.5,1066.6 420.5,1106.3 432.5,1112.0 445.5,1121.4 457.5,1090.6 470.5,1091.5 482.5,1090.8 495.5,1122.2 507.5,1114.8 520.5,1096.1 532.5,1123.3 545.5,1132.7 557.5,1138.4 570.5,1122.2 582.5,1120.8 595.5,1122.0 607.5,1105.3 620.5,1058.5 632.5,1062.1 645.5,1076.6 657.5,1082.7 670.5,1095.0 682.5,1107.2 695.5,1099.7 707.5,1092.3 720.5,1096.3 732.5,1078.9 745.5,1108.7 757.5,1008.4 770.5,987.2 782.5,983.1 795.5,1035.0 808.5,1021.4 820.5,1026.0 833.5,1032.6 845.5,1013.9 858.5,1015.0 870.5,1024.1 883.5,1051.1 895.5,1065.3 908.5,1051.5 920.5,1030.7 933.5,1047.5 945.5,1048.3 958.5,1093.1 970.5,1101.2 983.5,1091.5 995.5,1116.1 1008.5,1118.9 1020.5,1100.6 1033.5,1087.4 1045.5,1094.0 1058.5,1084.6 1070.5,1042.0 1083.5,1053.8 1095.5,1054.7 1108.5,1064.0 1120.5,1057.5 1133.5,1055.8 1145.5,1061.9 1158.5,1078.9 1170.5,1072.3 1183.5,1059.8 1195.5,1069.6 1208.5,1073.2 1221.5,1091.7 1233.5,1063.2 1246.5,1075.7 1258.5,1108.2 1271.5,1122.5 1283.5,1132.7 1296.5,1136.1 1308.5,1114.8 1321.5,1123.1 1333.5,1111.6 1346.5,1118.6 1358.5,1121.0 1371.5,1120.8 1383.5,1121.6 1396.5,1099.1 1408.5,1122.2 1421.5,1113.5 1433.5,1106.3 1446.5,1126.1 1458.5,1147.9 1471.5,1164.5 1483.5,1111.0 1496.5,1121.4 1508.5,1135.0 1521.5,1128.4 1533.5,1136.5 1546.5,1103.8 1558.5,1106.7 1571.5,1112.5 1583.5,1137.7 1596.5,1116.3 1608.5,1065.1 1621.5,1067.4 1634.5,1076.1 1646.5,1065.1 1659.5,1054.1 1671.5,1060.9 1684.5,1073.2 1696.5,1089.3 1709.5,1101.9 1721.5,1107.6 1734.5,1119.5 1746.5,1127.1 1759.5,1101.6 1771.5,1083.0 1784.5,1050.5 1796.5,1039.6 1809.5,1062.8 1821.5,1042.6 1834.5,1059.6 1846.5,1061.9 1859.5,1067.7 1871.5,1075.7 1884.5,1082.7 1896.5,1095.0 1909.5,1086.8 1921.5,1053.4 1934.5,1039.2 1946.5,1036.0 1959.5,1036.4 1971.5,1056.8 1984.5,1043.6 1996.5,1030.1 2009.5,1027.3 2021.5,1012.4 2034.5,980.1 2047.5,1000.1 2059.5,993.9 2072.5,996.3 2084.5,958.9 2097.5,962.3 2109.5,1031.6 2122.5,1019.0 2134.5,1015.2 2147.5,994.8 2159.5,985.9 2172.5,1001.0 2184.5,987.6 2197.5,1017.1 2209.5,995.4 2222.5,986.3 2234.5,982.0 2247.5,980.4 2259.5,1017.9 2272.5,1013.3 2572,969.6" fill="#26a69a" fill-opacity="0.1" clip-path="url(#c70)"/>
<polyline points="7.5,1066.2 19.5,1028.4 32.5,1032.6 44.5,1029.6 57.5,1023.1 69.5,1017.1 82.5,1028.1 94.5,1017.5 107.5,1011.1 119.5,982.9 132.5,1002.0 144.5,1047.7 157.5,1090.8 169.5,1104.0 182.5,1102.9 194.5,1074.2 207.5,1070.0 219.5,1079.5 232.5,1114.2 244.5,1109.3 257.5,1093.1 269.5,1077.6 282.5,1079.5 294.5,1088.0 307.5,1076.1 319.5,1069.6 332.5,1063.6 344.5,1056.0 357.5,1050.9 370.5,1038.3 382.5,1026.0 395.5,1070.4 407.5,1066.6 420.5,1106.3 432.5,1112.0 445.5,1121.4 457.5,1090.6 470.5,1091.5 482.5,1090.8 495.5,1122.2 507.5,1114.8 520.5,1096.1 532.5,1123.3 545.5,1132.7 557.5,1138.4 570.5,1122.2 582.5,1120.8 595.5,1122.0 607.5,1105.3 620.5,1058.5 632.5,1062.1 645.5,1076.6 657.5,1082.7 670.5,1095.0 682.5,1107.2 695.5,1099.7 707.5,1092.3 720.5,1096.3 732.5,1078.9 745.5,1108.7 757.5,1008.4 770.5,987.2 782.5,983.1 795.5,1035.0 808.5,1021.4 820.5,1026.0 833.5,1032.6 845.5,1013.9 858.5,1015.0 870.5,1024.1 883.5,1051.1 895.5,1065.3 908.5,1051.5 920.5,1030.7 933.5,1047.5 945.5,1048.3 958.5,1093.1 970.5,1101.2 983.5,1091.5 995.5,1116.1 1008.5,1118.9 1020.5,1100.6 1033.5,1087.4 1045.5,1094.0 1058.5,1084.6 1070.5,1042.0 1083.5,1053.8 1095.5,1054.7 1108.5,1064.0 1120.5,1057.5 1133.5,1055.8 1145.5,1061.9 1158.5,1078.9 1170.5,1072.3 1183.5,1059.8 1195.5,1069.6 1208.5,1073.2 1221.5,1091.7 1233.5,1063.2 1246.5,1075.7 1258.5,1108.2 1271.5,1122.5 1283.5,1132.7 1296.5,1136.1 1308.5,1114.8 1321.5,1123.1 1333.5,1111.6 1346.5,1118.6 1358.5,1121.0 1371.5,1120.8 1383.5,1121.6 1396.5,1099.1 1408.5,1122.2 1421.5,1113.5 1433.5,1106.3 1446.5,1126.1 1458.5,1147.9 1471.5,1164.5 1483.5,1111.0 1496.5,1121.4 1508.5,1135.0 1521.5,1128.4 1533.5,1136.5 1546.5,1103.8 1558.5,1106.7 1571.5,1112.5 1583.5,1137.7 1596.5,1116.3 1608.5,1065.1 1621.5,1067.4 1634.5,1076.1 1646.5,1065.1 1659.5,1054.1 1671.5,1060.9 1684.5,1073.2 1696.5,1089.3 1709.5,1101.9 1721.5,1107.6 1734.5,1119.5 1746.5,1127.1 1759.5,1101.6 1771.5,1083.0 1784.5,1050.5 1796.5,1039.6 1809.5,1062.8 1821.5,1042.6 1834.5,1059.6 1846.5,1061.9 1859.5,1067.7 1871.5,1075.7 1884.5,1082.7 1896.5,1095.0 1909.5,1086.8 1921.5,1053.4 1934.5,1039.2 1946.5,1036.0 1959.5,1036.4 1971.5,1056.8 1984.5,1043.6 1996.5,1030.1 2009.5,1027.3 2021.5,1012.4 2034.5,980.1 2047.5,1000.1 2059.5,993.9 2072.5,996.3 2084.5,958.9 2097.5,962.3 2109.5,1031.6 2122.5,1019.0 2134.5,1015.2 2147.5,994.8 2159.5,985.9 2172.5,1001.0 2184.5,987.6 2197.5,1017.1 2209.5,995.4 2222.5,986.3 2234.5,982.0 2247.5,980.4 2259.5,1017.9 2272.5,1013.3" fill="none" stroke="#b45ed6" stroke-width="1.55" stroke-linejoin="round"/>
<polyline points="7.5,1069.6 19.5,1068.1 32.5,1066.6 44.5,1065.3 57.5,1063.8 69.5,1063.2 82.5,1061.9 94.5,1057.2 107.5,1052.4 119.5,1044.5 132.5,1036.7 144.5,1033.3 157.5,1033.0 169.5,1033.3 182.5,1036.7 194.5,1040.2 207.5,1043.2 219.5,1047.0 232.5,1053.4 244.5,1059.4 257.5,1064.7 269.5,1069.4 282.5,1074.2 294.5,1080.8 307.5,1086.1 319.5,1088.0 332.5,1085.9 344.5,1082.7 357.5,1079.3 370.5,1076.4 382.5,1073.4 395.5,1072.7 407.5,1069.3 420.5,1069.1 432.5,1070.4 445.5,1073.4 457.5,1074.2 470.5,1074.5 482.5,1075.3 495.5,1079.1 507.5,1082.7 520.5,1085.5 532.5,1090.4 545.5,1096.8 557.5,1105.3 570.5,1109.1 582.5,1112.7 595.5,1114.2 607.5,1113.8 620.5,1109.3 632.5,1107.0 645.5,1105.9 657.5,1105.5 670.5,1103.6 682.5,1102.9 695.5,1102.9 707.5,1101.0 720.5,1098.4 732.5,1094.4 745.5,1093.1 757.5,1085.5 770.5,1075.7 782.5,1067.0 795.5,1065.1 808.5,1062.4 820.5,1058.3 833.5,1054.5 845.5,1049.2 858.5,1042.4 870.5,1037.1 883.5,1034.5 895.5,1032.2 908.5,1030.3 920.5,1025.0 933.5,1027.3 945.5,1031.8 958.5,1039.8 970.5,1044.3 983.5,1049.6 995.5,1056.8 1008.5,1062.8 1020.5,1068.9 1033.5,1073.8 1045.5,1078.9 1058.5,1081.0 1070.5,1079.5 1083.5,1079.5 1095.5,1081.0 1108.5,1082.1 1120.5,1082.9 1133.5,1080.2 1145.5,1077.6 1158.5,1076.4 1170.5,1073.2 1183.5,1069.3 1195.5,1067.0 1208.5,1066.0 1221.5,1065.9 1233.5,1064.3 1246.5,1066.2 1258.5,1070.4 1271.5,1075.7 1283.5,1081.0 1296.5,1086.4 1308.5,1090.8 1321.5,1095.0 1333.5,1097.2 1346.5,1100.2 1358.5,1104.4 1371.5,1108.2 1383.5,1111.6 1396.5,1112.3 1408.5,1116.5 1421.5,1118.8 1433.5,1118.8 1446.5,1119.1 1458.5,1120.5 1471.5,1122.2 1483.5,1122.0 1496.5,1121.8 1508.5,1123.3 1521.5,1124.1 1533.5,1125.2 1546.5,1123.9 1558.5,1122.9 1571.5,1124.1 1583.5,1125.2 1596.5,1125.2 1608.5,1122.4 1621.5,1118.0 1634.5,1112.9 1646.5,1106.3 1659.5,1101.6 1671.5,1097.2 1684.5,1093.1 1696.5,1090.4 1709.5,1088.0 1721.5,1088.3 1734.5,1089.3 1746.5,1090.2 1759.5,1087.8 1771.5,1085.5 1784.5,1084.2 1796.5,1082.1 1809.5,1081.2 1821.5,1079.8 1834.5,1080.2 1846.5,1080.0 1859.5,1079.8 1871.5,1078.9 1884.5,1077.4 1896.5,1076.1 1909.5,1074.2 1921.5,1069.4 1934.5,1064.3 1946.5,1060.9 1959.5,1060.2 1971.5,1061.3 1984.5,1059.8 1996.5,1059.0 2009.5,1056.6 2021.5,1053.0 2034.5,1047.1 2047.5,1041.5 2059.5,1034.5 2072.5,1027.7 2084.5,1018.6 2097.5,1012.4 2109.5,1011.8 2122.5,1010.7 2134.5,1009.5 2147.5,1005.0 2159.5,1000.8 2172.5,998.6 2184.5,995.7 2197.5,995.9 2209.5,996.7 2222.5,996.3 2234.5,995.6 2247.5,994.8 2259.5,998.6 2272.5,1002.0" fill="none" stroke="#e9f535" stroke-width="1.85" stroke-linejoin="round"/>
</g>
<g>
<circle cx="2272.5" cy="910.4" r="19.8" fill="#0c0c0c"/>
<circle cx="2272.5" cy="910.4" r="17.55" fill="#0c0c0c" stroke="#b94bd4" stroke-width="2.8"/>
<polygon points="2277.5,900.9 2278.6,902.2 2274.0,908.6 2280.8,909.3 2267.5,920.3 2266.4,919.0 2271.3,912.4 2264.4,911.6" fill="#b94bd4"/>
</g>
<text x="33" y="84.8" font-size="22" fill="#c9ccd5" textLength="345" lengthAdjust="spacingAndGlyphs">Hedera / US Dollar · 4h · Coinbase</text>
<text x="391.2" y="84.8" font-size="22" fill="#c9ccd5" textLength="15.8" lengthAdjust="spacingAndGlyphs">O</text>
<text x="408.5" y="84.8" font-size="22" fill="#26a69a" textLength="84.6" lengthAdjust="spacingAndGlyphs">0.23352</text>
<text x="506" y="84.8" font-size="22" fill="#c9ccd5" textLength="14.5" lengthAdjust="spacingAndGlyphs">H</text>
<text x="521.6" y="84.8" font-size="22" fill="#26a69a" textLength="85.6" lengthAdjust="spacingAndGlyphs">0.23459</text>
<text x="620.4" y="84.8" font-size="22" fill="#c9ccd5" textLength="11" lengthAdjust="spacingAndGlyphs">L</text>
<text x="632.6" y="84.8" font-size="22" fill="#26a69a" textLength="84.9" lengthAdjust="spacingAndGlyphs">0.23350</text>
<text x="730.1" y="84.8" font-size="22" fill="#c9ccd5" textLength="15" lengthAdjust="spacingAndGlyphs">C</text>
<text x="746.2" y="84.8" font-size="22" fill="#26a69a" textLength="84.9" lengthAdjust="spacingAndGlyphs">0.23420</text>
<text x="843.6" y="84.8" font-size="22" fill="#26a69a" textLength="99.6" lengthAdjust="spacingAndGlyphs">+0.00063</text>
<text x="951.0" y="84.8" font-size="22" fill="#26a69a" textLength="92" lengthAdjust="spacingAndGlyphs">(+0.27%)</text>
<text x="33" y="115.8" font-size="22" fill="#c9ccd5" textLength="107" lengthAdjust="spacingAndGlyphs">Vol · HBAR</text>
<text x="154.2" y="115.8" font-size="22" fill="#26a69a" textLength="68.1" lengthAdjust="spacingAndGlyphs">279.26</text>
<text x="227.5" y="115.8" font-size="22" fill="#26a69a" textLength="13" lengthAdjust="spacingAndGlyphs">K</text>
<text x="32.7" y="969.8" font-size="21.5" fill="#c9ccd5" textLength="33" lengthAdjust="spacingAndGlyphs">RSI</text>
<text x="79" y="969.8" font-size="21.5" fill="#b45ed6" textLength="56.7" lengthAdjust="spacingAndGlyphs">59.84</text>
<text x="150.2" y="969.8" font-size="21.5" fill="#e9f535" textLength="57.8" lengthAdjust="spacingAndGlyphs">62.45</text>
<text x="2589.3" y="159.2" font-size="21.5" fill="#adb0b9" textLength="87" lengthAdjust="spacingAndGlyphs">0.27500</text>
<text x="2589.3" y="214.2" font-size="21.5" fill="#adb0b9" textLength="87" lengthAdjust="spacingAndGlyphs">0.27000</text>
<text x="2589.3" y="269.2" font-size="21.5" fill="#adb0b9" textLength="87" lengthAdjust="spacingAndGlyphs">0.26500</text>
<text x="2589.3" y="324.2" font-size="21.5" fill="#adb0b9" textLength="87" lengthAdjust="spacingAndGlyphs">0.26000</text>
<text x="2589.3" y="379.2" font-size="21.5" fill="#adb0b9" textLength="87" lengthAdjust="spacingAndGlyphs">0.25500</text>
<text x="2589.3" y="434.2" font-size="21.5" fill="#adb0b9" textLength="87" lengthAdjust="spacingAndGlyphs">0.25000</text>
<text x="2589.3" y="489.2" font-size="21.5" fill="#adb0b9" textLength="87" lengthAdjust="spacingAndGlyphs">0.24500</text>
<text x="2589.3" y="544.2" font-size="21.5" fill="#adb0b9" textLength="87" lengthAdjust="spacingAndGlyphs">0.24000</text>
<text x="2589.3" y="599.3" font-size="21.5" fill="#adb0b9" textLength="87" lengthAdjust="spacingAndGlyphs">0.23500</text>
<text x="2589.3" y="654.3" font-size="21.5" fill="#adb0b9" textLength="87" lengthAdjust="spacingAndGlyphs">0.23000</text>
<text x="2589.3" y="709.3" font-size="21.5" fill="#adb0b9" textLength="87" lengthAdjust="spacingAndGlyphs">0.22500</text>
<text x="2589.3" y="764.3" font-size="21.5" fill="#adb0b9" textLength="87" lengthAdjust="spacingAndGlyphs">0.22000</text>
<text x="2589.3" y="819.3" font-size="21.5" fill="#adb0b9" textLength="87" lengthAdjust="spacingAndGlyphs">0.21500</text>
<text x="2589.3" y="874.3" font-size="21.5" fill="#adb0b9" textLength="87" lengthAdjust="spacingAndGlyphs">0.21000</text>
<text x="2589.3" y="929.3" font-size="21.5" fill="#adb0b9" textLength="87" lengthAdjust="spacingAndGlyphs">0.20500</text>
<text x="2588.7" y="1020.6" font-size="21.5" fill="#adb0b9" textLength="60.2" lengthAdjust="spacingAndGlyphs">60.00</text>
<text x="2588.7" y="1108.7" font-size="21.5" fill="#adb0b9" textLength="60.2" lengthAdjust="spacingAndGlyphs">40.00</text>
<rect x="2579.2" y="55.8" width="123" height="46.6" rx="8" fill="#0f0f0f" stroke="#3a3a3c" stroke-width="1.2"/>
<text x="2595.2" y="86.2" font-size="22" fill="#dedede" textLength="45" lengthAdjust="spacingAndGlyphs">USD</text>
<path d="M2573,307 H2682 Q2686,307 2686,311 V334 Q2686,338 2682,338 H2573 Z" fill="#5b9cf6"/>
<text x="2590.2" y="329.6" font-size="21.5" fill="#000000" textLength="86.8" lengthAdjust="spacingAndGlyphs">0.25951</text>
<path d="M2573,667.3 H2682 Q2686,667.3 2686,671.3 V693.5 Q2686,697.5 2682,697.5 H2573 Z" fill="#5b9cf6"/>
<text x="2590.2" y="689.5" font-size="21.5" fill="#000000" textLength="86.8" lengthAdjust="spacingAndGlyphs">0.23084</text>
<path d="M2573,697.5 H2682 Q2686,697.5 2686,701.5 V723.8 Q2686,727.8 2682,727.8 H2573 Z" fill="#5b9cf6"/>
<text x="2590.2" y="719.8" font-size="21.5" fill="#000000" textLength="86.8" lengthAdjust="spacingAndGlyphs">0.22494</text>
<path d="M2573,770 H2682 Q2686,770 2686,774 V797 Q2686,801 2682,801 H2573 Z" fill="#5b9cf6"/>
<text x="2590.2" y="792.6" font-size="21.5" fill="#000000" textLength="86.8" lengthAdjust="spacingAndGlyphs">0.21741</text>
<path d="M2573,824 H2682 Q2686,824 2686,828 V851 Q2686,855 2682,855 H2573 Z" fill="#5b9cf6"/>
<text x="2590.2" y="846.6" font-size="21.5" fill="#000000" textLength="86.8" lengthAdjust="spacingAndGlyphs">0.21250</text>
<rect x="2573" y="697" width="113" height="1" fill="#4f8ee6" fill-opacity="0.5"/>
<path d="M2572,586 H2457 Q2453,586 2453,590 V613 Q2453,617 2457,617 H2572 Z" fill="#26a69a"/>
<text x="2460.6" y="608.9" font-size="21" fill="#ffffff" textLength="102.4" lengthAdjust="spacingAndGlyphs">HBARUSD</text>
<path d="M2573,586 H2689 Q2693,586 2693,590 V663 Q2693,667 2689,667 H2573 Z" fill="#26a69a"/>
<text x="2590.2" y="609.1" font-size="21" fill="#ffffff" textLength="86.8" lengthAdjust="spacingAndGlyphs">0.23420</text>
<text x="2590.6" y="634.1" font-size="21" fill="#ffffff" textLength="78.8" lengthAdjust="spacingAndGlyphs">−8.56%</text>
<text x="2590.2" y="659.3" font-size="21" fill="#ffffff" textLength="92.5" lengthAdjust="spacingAndGlyphs" fill-opacity="0.78">03:54:04</text>
<text x="44.6" y="1220.4" font-size="22" fill="#adb0b9" text-anchor="middle">13</text>
<text x="194.8" y="1220.4" font-size="22" fill="#adb0b9" text-anchor="middle">15</text>
<text x="345.0" y="1220.4" font-size="22" fill="#adb0b9" text-anchor="middle">17</text>
<text x="495.2" y="1220.4" font-size="22" fill="#adb0b9" text-anchor="middle">19</text>
<text x="645.3" y="1220.4" font-size="22" fill="#adb0b9" text-anchor="middle">21</text>
<text x="795.5" y="1220.4" font-size="22" fill="#adb0b9" text-anchor="middle">23</text>
<text x="945.7" y="1220.4" font-size="22" fill="#adb0b9" text-anchor="middle">25</text>
<text x="1095.9" y="1220.4" font-size="22" fill="#adb0b9" text-anchor="middle">27</text>
<text x="1246.0" y="1220.4" font-size="22" fill="#adb0b9" text-anchor="middle">29</text>
<text x="1471.3" y="1220.4" font-size="21.5" fill="#c3c6cf" font-weight="bold" text-anchor="middle">Sep</text>
<text x="1621.5" y="1220.4" font-size="22" fill="#adb0b9" text-anchor="middle">3</text>
<text x="1771.7" y="1220.4" font-size="22" fill="#adb0b9" text-anchor="middle">5</text>
<text x="1921.9" y="1220.4" font-size="22" fill="#adb0b9" text-anchor="middle">7</text>
<text x="2072.0" y="1220.4" font-size="22" fill="#adb0b9" text-anchor="middle">9</text>
<text x="2222.2" y="1220.4" font-size="22" fill="#adb0b9" text-anchor="middle">11</text>
<text x="2372.4" y="1220.4" font-size="22" fill="#adb0b9" text-anchor="middle">13</text>
<text x="2522.6" y="1220.4" font-size="22" fill="#adb0b9" text-anchor="middle">15</text>
<path d="M21.3,1276 H43.3 V1302.3 H32.3 V1286.6 H21.3 Z" fill="#d9d9d9"/>
<circle cx="52" cy="1281.1" r="5.3" fill="#d9d9d9"/>
<path d="M62.2,1276 H75.3 L64.9,1302.3 H52 Z" fill="#d9d9d9"/>
<text x="87.5" y="1302.3" font-size="38.2" fill="#d9d9d9" textLength="219" lengthAdjust="spacingAndGlyphs" font-weight="bold">TradingView</text>
</svg>
</body></html>
